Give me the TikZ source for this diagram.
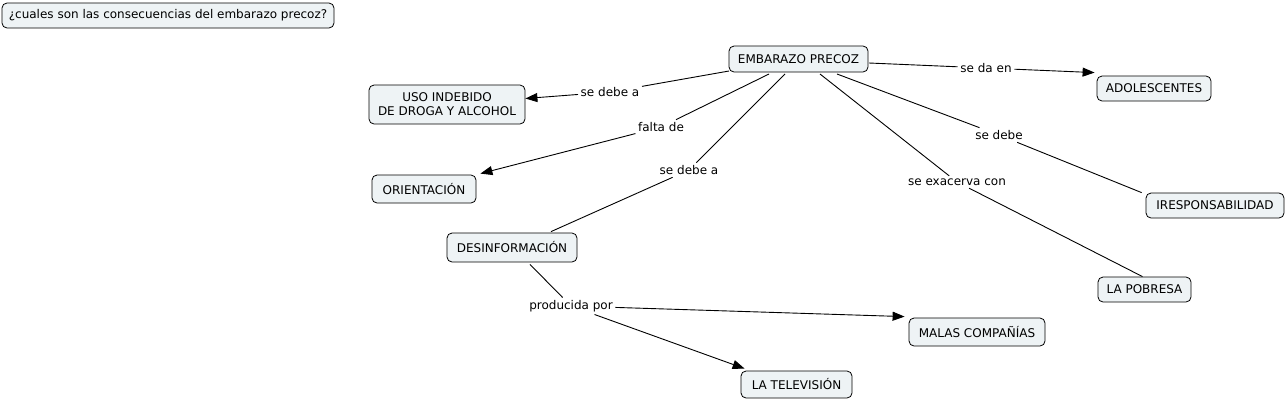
\documentclass[tikz,border=0pt]{standalone}
\usepackage{fontspec}
\setmainfont{DejaVu Sans}
\usetikzlibrary{arrows.meta}
\definecolor{boxfill}{RGB}{238,243,245}
\tikzset{
  box/.style={draw=black, fill=boxfill, rounded corners=5pt, line width=0.8pt, inner sep=2pt, align=center, font=\fontsize{12}{14}\selectfont},
  lab/.style={inner sep=2.5pt, font=\fontsize{12}{14}\selectfont},
  ln/.style={draw=black, line width=0.9pt},
  arr/.style={ln, -{Triangle[length=12pt,width=9pt]}}
}
\begin{document}
\begin{tikzpicture}[x=1pt,y=-1pt]
\useasboundingbox (0,0) rectangle (1287,400);
% nodes
\node[box, minimum width=332pt, minimum height=25pt] (q) at (168,15.5) {¿cuales son las consecuencias del embarazo precoz?};
\node[box, minimum width=139pt, minimum height=26pt] (emb) at (798.5,59) {EMBARAZO PRECOZ};
\node[box, minimum width=114pt, minimum height=25pt] (ado) at (1154,88.5) {ADOLESCENTES};
\node[box, minimum width=156pt, minimum height=39pt] (uso) at (447,104.5) {USO INDEBIDO\\DE DROGA Y ALCOHOL};
\node[box, minimum width=104pt, minimum height=28pt] (ori) at (424,189) {ORIENTACIÓN};
\node[box, minimum width=138pt, minimum height=25pt] (ires) at (1215,205.5) {IRESPONSABILIDAD};
\node[box, minimum width=130pt, minimum height=29pt] (des) at (512,247.5) {DESINFORMACIÓN};
\node[box, minimum width=93pt, minimum height=25pt] (pob) at (1144.5,289.5) {LA POBRESA};
\node[box, minimum width=136pt, minimum height=28pt] (mal) at (977,332) {MALAS COMPAÑÍAS};
\node[box, minimum width=111pt, minimum height=27pt] (tel) at (796.5,384.5) {LA TELEVISIÓN};
% labels
\node[lab] (l1) at (610,92) {se debe a};
\node[lab] (l2) at (661,127) {falta de};
\node[lab] (l3) at (689,170) {se debe a};
\node[lab] (l4) at (986,68) {se da en};
\node[lab] (l5) at (999,135) {se debe};
\node[lab] (l6) at (957,182) {se exacerva con};
\node[lab] (l7) at (571,306) {producida por};
% anchor coordinates
\coordinate (e1) at (729,71);
\coordinate (e2) at (769,74);
\coordinate (e3) at (785,74);
\coordinate (e4) at (869,63);
\coordinate (e5) at (837,74);
\coordinate (e6) at (820,74);
\coordinate (tado) at ([shift={(-2,-3)}]ado.north west);
\coordinate (tori) at ([shift={(4,-1)}]ori.north east);
\coordinate (tdes) at ([shift={(39,-1)}]des.north);
\coordinate (sdes) at ([shift={(18,2)}]des.south);
\coordinate (tires) at ([shift={(-4,0)}]ires.north west);
\coordinate (tpob) at ([shift={(-2,0)}]pob.north);
\coordinate (tmal) at ([shift={(-4,-1)}]mal.north west);
\coordinate (ttel) at ([shift={(4,-2)}]tel.north west);
% connectors
\draw[ln] (e1) -- (l1);
\draw[arr] (l1) -- (uso);
\draw[ln] (e2) -- (l2);
\draw[arr] (l2) -- (tori);
\draw[ln] (e3) -- (l3);
\draw[ln] (l3) -- (tdes);
\draw[ln] (e4) -- (l4);
\draw[arr] (l4) -- (tado);
\draw[ln] (e5) -- (l5);
\draw[ln] (l5) -- (tires);
\draw[ln] (e6) -- (l6);
\draw[ln] (l6) -- (tpob);
\draw[ln] (sdes) -- (l7);
\draw[arr] (l7) -- (tmal);
\draw[arr] (l7) -- (ttel);
\end{tikzpicture}
\end{document}
